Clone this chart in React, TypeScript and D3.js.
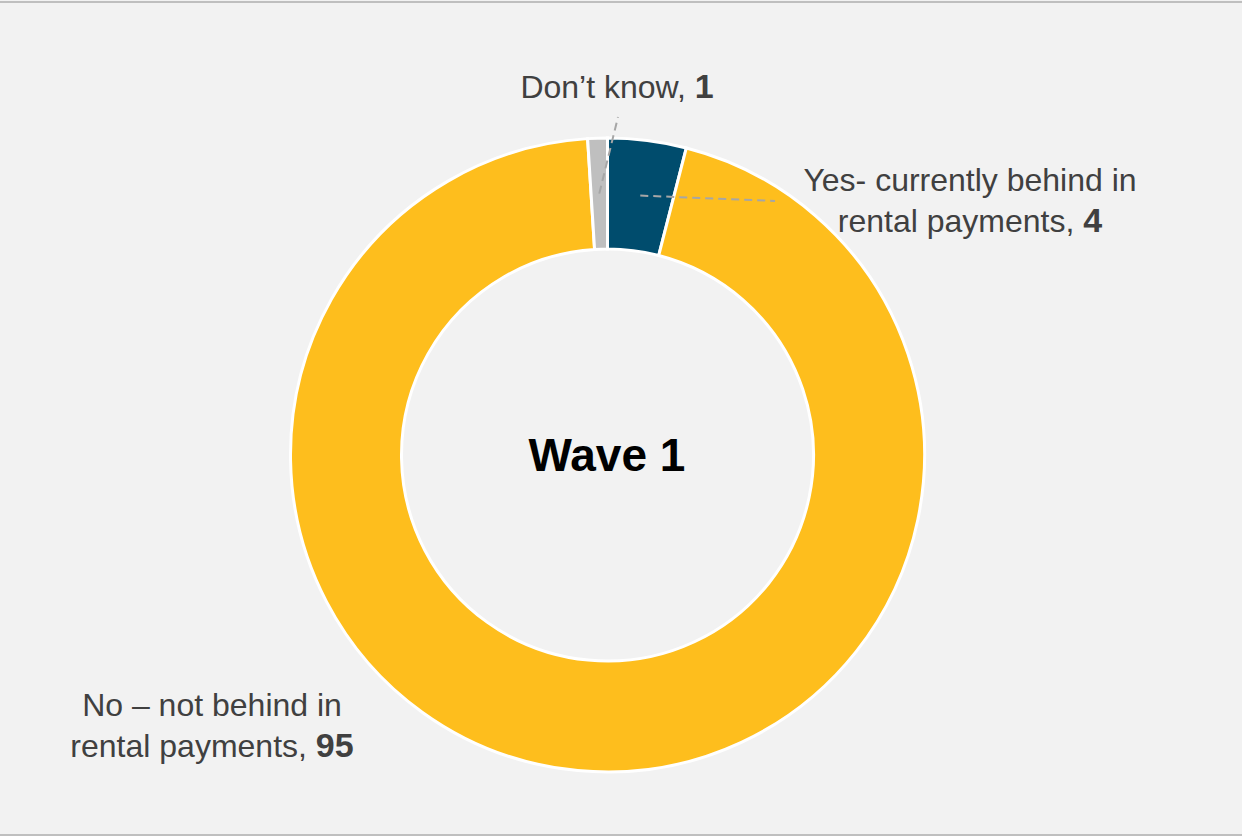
import React from "react";
import * as d3 from "d3";

const categories = ["Yes- currently behind in rental payments", "No – not behind in rental payments", "Don’t know"];
const values = [4, 95, 1];
const colors = ["#004C6D", "#FEBE1D", "#BFBFBF"];
const labelLines = [
  ["Yes- currently behind in", "rental payments, "],
  ["No – not behind in", "rental payments, "],
  ["Don’t know, "],
];
const centerTitle = "Wave 1";

const W = 1242;
const H = 836;
const cx = 607.5;
const cy = 455;
const outerR = 317;
const innerR = 206;

// label anchor positions (center x, first baseline y) per slice
const labelPos = [
  { x: 970, y: 191, leader: [775, 201] },
  { x: 212, y: 716, leader: null },
  { x: 617, y: 98, leader: [618, 117] },
];

export default function App() {
  const pie = d3.pie<number>().sort(null).value((d) => d)(values);
  const arc = d3.arc<d3.PieArcDatum<number>>().innerRadius(innerR).outerRadius(outerR);

  return (
    <div style={{ position: "absolute", left: 0, top: 0 }}>
      <svg width={W} height={H} style={{ display: "block" }} fontFamily="'Liberation Sans', Arial, sans-serif">
        <rect x={0} y={0} width={W} height={H} fill="#F2F2F2" />
        <line x1={0} x2={W} y1={2} y2={2} stroke="#BFBFBF" strokeWidth={2} />
        <line x1={0} x2={W} y1={835} y2={835} stroke="#BFBFBF" strokeWidth={2} />
        <g transform={`translate(${cx},${cy})`}>
          {pie.map((p, i) => (
            <path key={i} d={arc(p) || ""} fill={colors[i]} stroke="#FFFFFF" strokeWidth={3} />
          ))}
          {pie.map((p, i) => {
            const lp = labelPos[i];
            if (!lp.leader) return null;
            const [mx, my] = arc.centroid(p);
            return (
              <line
                key={"l" + i}
                x1={mx}
                y1={my}
                x2={lp.leader[0] - cx}
                y2={lp.leader[1] - cy}
                stroke="#A6A6A6"
                strokeWidth={2}
                strokeDasharray="8,5"
              />
            );
          })}
        </g>
        {labelLines.map((lines, i) => {
          const lp = labelPos[i];
          return (
            <text key={"t" + i} x={lp.x} y={lp.y} textAnchor="middle" fontSize={32} fill="#404040">
              {lines.map((ln, j) => (
                <tspan key={j} x={lp.x} dy={j === 0 ? 0 : 40.5}>
                  {ln}
                  {j === lines.length - 1 ? (
                    <tspan fontWeight="bold" fontSize={34}>
                      {values[i]}
                    </tspan>
                  ) : null}
                </tspan>
              ))}
            </text>
          );
        })}
        <text x={607} y={471} textAnchor="middle" fontSize={46} fontWeight="bold" fill="#000000">
          {centerTitle}
        </text>
      </svg>
    </div>
  );
}
